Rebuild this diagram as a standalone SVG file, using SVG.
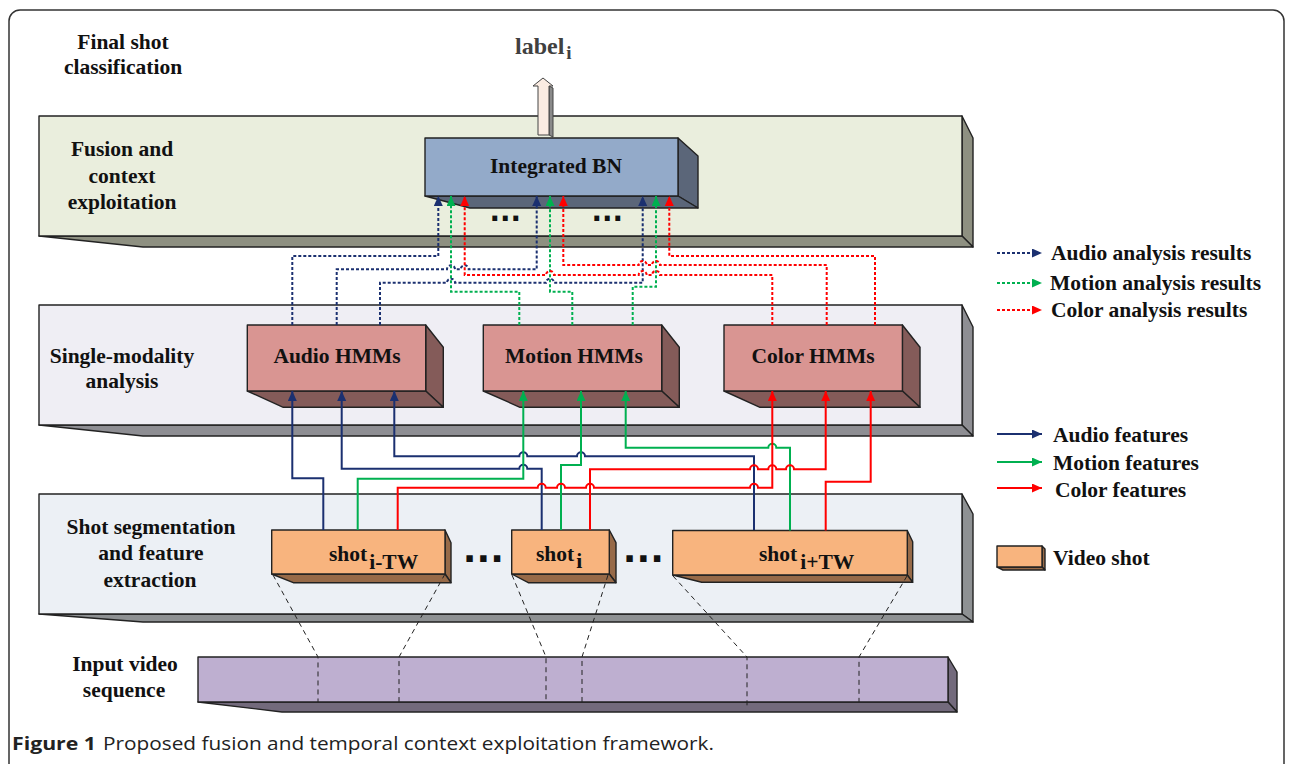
<svg xmlns="http://www.w3.org/2000/svg" width="1290" height="764" viewBox="0 0 1290 764">
<style>
.lbl{font-family:"Liberation Serif","Times New Roman",serif;font-weight:bold;font-size:21.5px;fill:#111}
.mid{text-anchor:middle}
.ol{stroke:#222;stroke-width:1.4;stroke-linejoin:round}
.dash{fill:none;stroke-width:2;stroke-dasharray:3 2}
.sol{fill:none;stroke-width:2}
.b{stroke:#1b3070}.g{stroke:#00b050}.r{stroke:#ff0000}
.vd{fill:none;stroke:#222;stroke-width:1;stroke-dasharray:5 4}
.dots{font-family:"DejaVu Sans",sans-serif;font-weight:bold;fill:#111}
</style>
<defs>
<marker id="ab" markerUnits="userSpaceOnUse" markerWidth="11" markerHeight="10" refX="10" refY="4.5" orient="auto"><path d="M0,0 L10,4.5 L0,9 Z" fill="#1b3070"/></marker>
<marker id="ag" markerUnits="userSpaceOnUse" markerWidth="11" markerHeight="10" refX="10" refY="4.5" orient="auto"><path d="M0,0 L10,4.5 L0,9 Z" fill="#00b050"/></marker>
<marker id="ar" markerUnits="userSpaceOnUse" markerWidth="11" markerHeight="10" refX="10" refY="4.5" orient="auto"><path d="M0,0 L10,4.5 L0,9 Z" fill="#ff0000"/></marker>
</defs>
<rect width="1290" height="764" fill="#ffffff"/>
<rect x="9" y="10" width="1275" height="800" rx="11" fill="none" stroke="#333" stroke-width="1.5"/>

<!-- layer panels -->
<g id="layer-fusion">
<polygon points="962,116 973,138 973,247 962,236" fill="#8e9081" class="ol"/>
<polygon points="39,236 962,236 973,247 143,247" fill="#8e9081" class="ol"/>
<rect x="39" y="116" width="923" height="120" fill="#eaeedd" class="ol"/>
</g>
<g id="layer-single">
<polygon points="962,305 973,327 973,436 962,425" fill="#8e8e93" class="ol"/>
<polygon points="39,425 962,425 973,436 143,436" fill="#8e8e93" class="ol"/>
<rect x="39" y="305" width="923" height="120" fill="#efeef4" class="ol"/>
</g>
<g id="layer-shot">
<polygon points="962,494 973,514 973,622 962,614" fill="#8e9193" class="ol"/>
<polygon points="39,614 962,614 973,622 143,622" fill="#8e9193" class="ol"/>
<rect x="39" y="494" width="923" height="120" fill="#ecf0f5" class="ol"/>
</g>

<!-- left labels -->
<g id="left-labels">
<text class="lbl mid" x="123" y="49">Final shot</text>
<text class="lbl mid" x="123" y="74">classification</text>
<text class="lbl mid" x="122" y="156">Fusion and</text>
<text class="lbl mid" x="122" y="183">context</text>
<text class="lbl mid" x="122" y="209">exploitation</text>
<text class="lbl mid" x="122" y="363">Single-modality</text>
<text class="lbl mid" x="122" y="388">analysis</text>
<text class="lbl mid" x="151" y="534">Shot segmentation</text>
<text class="lbl mid" x="151" y="560">and feature</text>
<text class="lbl mid" x="150" y="587">extraction</text>
<text class="lbl mid" x="125" y="671">Input video</text>
<text class="lbl mid" x="124" y="697">sequence</text>
</g>

<!-- output label and arrow -->
<g id="label-i">
<text x="515" y="54" style="font-family:'Liberation Serif',serif;font-weight:bold;font-size:24px;fill:#404040">label<tspan dx="2" dy="5" style="font-size:19px">i</tspan></text>
<polygon points="549,86 553,88 553,137 549,135" fill="#8a8a8a" stroke="#444" stroke-width="1"/>
<polygon points="538,135 538,86 533,86 543,78 553,86 549,86 549,135" fill="#fbece2" stroke="#444" stroke-width="1"/>
</g>

<!-- Integrated BN -->
<g id="node-bn">
<polygon points="678,138 698,156 698,208 678,196" fill="#5b6679" class="ol"/>
<polygon points="425,196 678,196 698,208 470,208" fill="#5b6679" class="ol"/>
<rect x="425" y="138" width="253" height="58" fill="#93aac9" class="ol"/>
<text class="lbl mid" x="556" y="173">Integrated BN</text>
</g>
<g id="bn-dots">
<text class="dots" x="489.5" y="221" style="font-size:27.6px">...</text>
<text class="dots" x="591.5" y="221" style="font-size:27.6px">...</text>
</g>

<!-- HMM nodes -->
<g id="node-audio-hmm">
<polygon points="425.7,325 443.3,347.3 443.3,407.3 425.7,391" fill="#845b59" class="ol"/>
<polygon points="247.3,391 425.7,391 443.3,407.3 283.3,407.3" fill="#845b59" class="ol"/>
<rect x="247.3" y="325" width="178.4" height="66" fill="#d99592" class="ol"/>
<text class="lbl mid" x="337" y="363">Audio HMMs</text>
</g>
<g id="node-motion-hmm">
<polygon points="661.7,325 679.3,347.3 679.3,407.3 661.7,391" fill="#845b59" class="ol"/>
<polygon points="483.3,391 661.7,391 679.3,407.3 520,407.3" fill="#845b59" class="ol"/>
<rect x="483.3" y="325" width="178.4" height="66" fill="#d99592" class="ol"/>
<text class="lbl mid" x="574" y="363">Motion HMMs</text>
</g>
<g id="node-color-hmm">
<polygon points="902.4,325 920,347.3 920,407.3 902.4,391" fill="#845b59" class="ol"/>
<polygon points="724,391 902.4,391 920,407.3 760,407.3" fill="#845b59" class="ol"/>
<rect x="724" y="325" width="178.4" height="66" fill="#d99592" class="ol"/>
<text class="lbl mid" x="813" y="363">Color HMMs</text>
</g>

<!-- shot nodes -->
<g id="node-shot-itw-minus">
<polygon points="445,530 451,542.7 451,582.7 445,574" fill="#976a48" class="ol"/>
<polygon points="271.7,574 445,574 451,582.7 293.3,582.7" fill="#976a48" class="ol"/>
<rect x="271.7" y="530" width="173.3" height="44" fill="#f8b47e" class="ol"/>
<text class="lbl" x="329" y="561">shot<tspan dx="2" dy="8">i-TW</tspan></text>
</g>
<g id="node-shot-i">
<polygon points="609.3,530 616,542.7 616,582.7 609.3,574" fill="#976a48" class="ol"/>
<polygon points="511.7,574 609.3,574 616,582.7 528.3,582.7" fill="#976a48" class="ol"/>
<rect x="511.7" y="530" width="97.6" height="44" fill="#f8b47e" class="ol"/>
<text class="lbl" x="536" y="561">shot<tspan dx="2" dy="7">i</tspan></text>
</g>
<g id="node-shot-itw-plus">
<polygon points="907.3,530.5 912.7,541.7 912.7,582.3 907.3,575" fill="#976a48" class="ol"/>
<polygon points="672.7,575 907.3,575 912.7,582.3 701.7,582.3" fill="#976a48" class="ol"/>
<rect x="672.7" y="530.5" width="234.6" height="44.5" fill="#f8b47e" class="ol"/>
<text class="lbl" x="759" y="561">shot<tspan dx="3" dy="8">i+TW</tspan></text>
</g>
<g id="shot-dots">
<text class="dots" x="462.8" y="562" style="font-size:36px">...</text>
<text class="dots" x="622.8" y="562" style="font-size:36px">...</text>
</g>

<!-- video sequence -->
<g id="node-video">
<polygon points="948,657 957,672 957,712 948,702" fill="#736a7c" class="ol"/>
<polygon points="198,702 948,702 957,712 282,712" fill="#736a7c" class="ol"/>
<rect x="198" y="657" width="750" height="45" fill="#beafd0" class="ol"/>
</g>

<!-- connectors -->
<g id="connectors">
<path class="vd" d="M273,575 L318,657 V702"/>
<path class="vd" d="M445,574 L399,657 V702"/>
<path class="vd" d="M512,575 L546,657 V702"/>
<path class="vd" d="M608,575 L582,657 V702"/>
<path class="vd" d="M673,576 L747,657 V708"/>
<path class="vd" d="M907,576 L859,657 V702"/>

<path class="dash b" marker-end="url(#ab)" d="M292.3,325 V256 H438.3 V196"/>
<path class="dash b" marker-end="url(#ab)" d="M336.7,325 V269.3 H447 A4,4 0 0 1 455,269.3 H460.7 A4,4 0 0 1 468.7,269.3 H536.7 V196"/>
<path class="dash b" marker-end="url(#ab)" d="M380,325 V282.7 H447 A4,4 0 0 1 455,282.7 H546 A4,4 0 0 1 554,282.7 H642.7 V196"/>
<path class="dash g" marker-end="url(#ag)" d="M519.3,325 V291.7 H451 V196"/>
<path class="dash g" marker-end="url(#ag)" d="M572.3,325 V291.7 H550 V196"/>
<path class="dash g" marker-end="url(#ag)" d="M632.7,325 V286.7 H656 V196"/>
<path class="dash r" marker-end="url(#ar)" d="M772.3,325 V275 H660 A4,4 0 0 0 652,275 H646.7 A4,4 0 0 0 638.7,275 H554 A4,4 0 0 0 546,275 H464.7 V196"/>
<path class="dash r" marker-end="url(#ar)" d="M826.7,325 V265 H660 A4,4 0 0 0 652,265 H646.7 A4,4 0 0 0 638.7,265 H563.3 V196"/>
<path class="dash r" marker-end="url(#ar)" d="M875,325 V256 H669.3 V196"/>

<path class="sol b" marker-end="url(#ab)" d="M323.3,530 V478.3 H292.3 V391"/>
<path class="sol b" marker-end="url(#ab)" d="M541.7,530 V468.7 H527.3 A4,4 0 0 0 519.3,468.7 H341.7 V391"/>
<path class="sol b" marker-end="url(#ab)" d="M754,530 V456.3 H585 A4,4 0 0 0 577,456.3 H527.3 A4,4 0 0 0 519.3,456.3 H394.3 V391"/>
<path class="sol g" marker-end="url(#ag)" d="M357.7,530 V478.7 H523.3 V391"/>
<path class="sol g" marker-end="url(#ag)" d="M561,530 V465 H581 V391"/>
<path class="sol g" marker-end="url(#ag)" d="M790,530.5 V447.7 H776.3 A4,4 0 0 0 768.3,447.7 H625.7 V391"/>
<path class="sol r" marker-end="url(#ar)" d="M397.7,530 V487.7 H537.7 A4,4 0 0 1 545.7,487.7 H557 A4,4 0 0 1 565,487.7 H586 A4,4 0 0 1 594,487.7 H750 A4,4 0 0 1 758,487.7 H772.3 V391"/>
<path class="sol r" marker-end="url(#ar)" d="M590,530 V469.3 H750 A4,4 0 0 1 758,469.3 H768.3 A4,4 0 0 1 776.3,469.3 H786 A4,4 0 0 1 794,469.3 H825.7 V391"/>
<path class="sol r" marker-end="url(#ar)" d="M825.7,530.5 V481.7 H870.7 V391"/>
</g>

<!-- legend -->
<g id="legend">
<path class="dash b" marker-end="url(#ab)" d="M997,253 H1042"/>
<path class="dash g" marker-end="url(#ag)" d="M997,283 H1042"/>
<path class="dash r" marker-end="url(#ar)" d="M997,310 H1042"/>
<text class="lbl" x="1051" y="260">Audio analysis results</text>
<text class="lbl" x="1050" y="290">Motion analysis results</text>
<text class="lbl" x="1051" y="317">Color analysis results</text>
<path class="sol b" marker-end="url(#ab)" d="M997,434 H1042"/>
<path class="sol g" marker-end="url(#ag)" d="M997,462 H1042"/>
<path class="sol r" marker-end="url(#ar)" d="M997,488 H1042"/>
<text class="lbl" x="1053" y="442">Audio features</text>
<text class="lbl" x="1053" y="470">Motion features</text>
<text class="lbl" x="1055" y="497">Color features</text>
<polygon points="1042,546 1045,549 1045,570 1042,567" fill="#976a48" class="ol"/>
<polygon points="997,567 1042,567 1045,570 1003,570" fill="#976a48" class="ol"/>
<rect x="997" y="546" width="45" height="21" fill="#f8b47e" class="ol"/>
<text class="lbl" x="1053" y="565">Video shot</text>
</g>

<!-- caption -->
<g id="caption">
<text x="12" y="750" textLength="84" lengthAdjust="spacingAndGlyphs" style="font-family:'Open Sans','Noto Sans',sans-serif;font-weight:bold;font-size:18.5px;fill:#222">Figure 1</text>
<text x="103" y="750" textLength="611" lengthAdjust="spacingAndGlyphs" style="font-family:'Open Sans','Noto Sans',sans-serif;font-size:18.5px;fill:#222">Proposed fusion and temporal context exploitation framework.</text>
</g>
</svg>
